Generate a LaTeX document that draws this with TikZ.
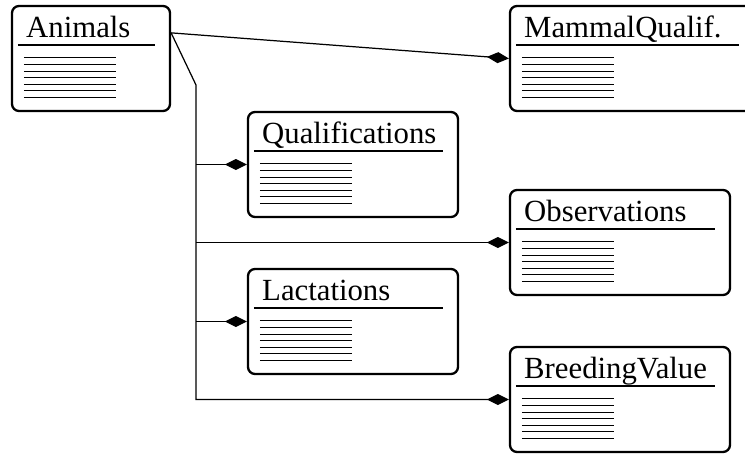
\documentclass[tikz,border=0pt]{standalone}
\usepackage{fontspec}
\setmainfont{Liberation Serif}
\usepackage{tikz}
\usetikzlibrary{positioning}
\usetikzlibrary{arrows.meta,calc}
\tikzset{
    %Define standard arrow tip
    >={Diamond[length=0.44cm,width=0.22cm]},
    % Define connector style
    aggr/.style={
           ->,
           color=black,
           line width=0.7pt,}
}
\newcommand{\boxheight}{2.1cm}
% title, underline and field lines of one class box
\newcommand{\classparts}[2]{%
    \node[titletext] (#1-title) at ($(#1.north west)+(0.3,-0.66)$) {#2};
    \draw[titleline] ($(#1.north west)+(0.14,-0.8)$) -- ($(#1.north east)+(-0.32,-0.8)$);
    \foreach \k in {0,...,6}
        \draw[fieldline] ($(#1.north west)+(0.26,-1.06-0.132*\k)$) -- ++(1.84,0);
}

\begin{document}
\begin{tikzpicture}
\tikzstyle{classbox}=[draw=black, fill=white, rectangle, line width=1.3pt, rounded corners=1.4mm,
                   minimum height=\boxheight, inner sep=0pt]
\tikzstyle{titletext}=[anchor=base west, inner sep=0pt, font=\fontsize{17.5}{20}\selectfont]
\tikzstyle{titleline}=[line width=1.2pt]
\tikzstyle{fieldline}=[line width=0.5pt]

\useasboundingbox (0,0) rectangle (14.9,-9.06);

%%%%%%%%%%%%%%%%%%%%%%%%%%%%%%%%%
% class boxes
%%%%%%%%%%%%%%%%%%%%%%%%%%%%%%%%%
    \node[classbox, minimum width=3.16cm] (anim)  at (1.82cm,-1.17cm) {};
    \node[classbox, minimum width=4.88cm] (mam)   at (12.64cm,-1.17cm) {};
    \node[classbox, minimum width=4.2cm]  (qual)  at (7.06cm,-3.29cm) {};
    \node[classbox, minimum width=4.4cm]  (obs)   at (12.4cm,-4.85cm) {};
    \node[classbox, minimum width=4.2cm]  (lact)  at (7.06cm,-6.43cm) {};
    \node[classbox, minimum width=4.4cm]  (breed) at (12.4cm,-7.99cm) {};

    \classparts{anim}{Animals}
    \classparts{mam}{MammalQualif.}
    \classparts{qual}{Qualifications}
    \classparts{obs}{Observations}
    \classparts{lact}{Lactations}
    \classparts{breed}{BreedingValue}

%%%%%%%%%%%%%%%%%%%%%%%%%%%%%%%%%
% connectors
%%%%%%%%%%%%%%%%%%%%%%%%%%%%%%%%%
\coordinate (anim-out) at ($(anim.north east)+(0,-0.56)$);
\coordinate (trunk) at (3.92cm,-1.7cm);

\draw[aggr] (anim-out) -- (mam.west);
\draw[aggr] (anim-out) -- (trunk) |- (breed.west);
\draw[aggr] (trunk |- qual.west) -- (qual.west);
\draw[aggr] (trunk |- obs.west) -- (obs.west);
\draw[aggr] (trunk |- lact.west) -- (lact.west);

\end{tikzpicture}
\end{document}
